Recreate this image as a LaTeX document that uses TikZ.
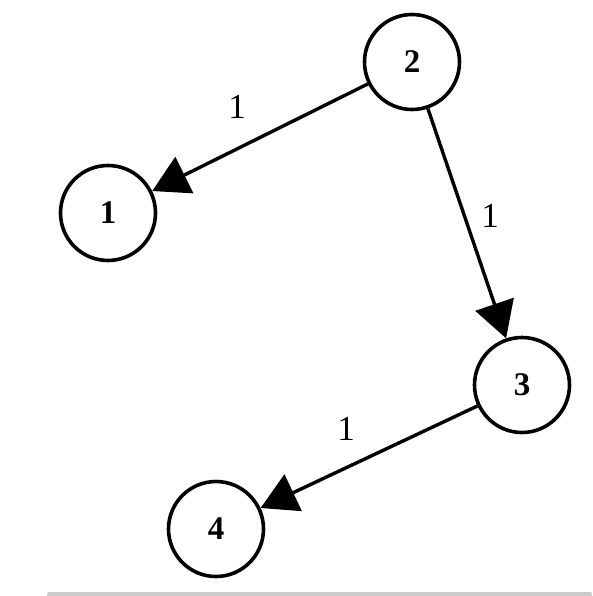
\documentclass[tikz,border=0pt]{standalone}
\usepackage{fontspec}
\setmainfont{Liberation Serif}
\usetikzlibrary{arrows.meta}
\begin{document}
\begin{tikzpicture}[x=1pt,y=-1pt,
  vertex/.style={circle,draw,line width=3.6pt,minimum size=95pt,inner sep=0pt,font=\fontsize{33}{33}\selectfont\bfseries},
  edge/.style={line width=3.4pt,-{Triangle[length=36pt,width=40pt]}},
  wlabel/.style={font=\fontsize{35}{35}\selectfont}]
\useasboundingbox (0,0) rectangle (592,596);
\node[vertex] (n2) at (412,62) {2};
\node[vertex] (n1) at (108,213) {1};
\node[vertex] (n3) at (522,385) {3};
\node[vertex] (n4) at (216,529) {4};
\draw[edge] (n2) -- (n1);
\draw[edge] (n2) -- (n3);
\draw[edge] (n3) -- (n4);
\node[wlabel] (l21) at (237,107) {1};
\node[wlabel] (l23) at (490,216) {1};
\node[wlabel] (l34) at (346,429) {1};
\fill[gray!40,rounded corners=1.5pt] (47,592) rectangle (592,597);
\end{tikzpicture}
\end{document}
